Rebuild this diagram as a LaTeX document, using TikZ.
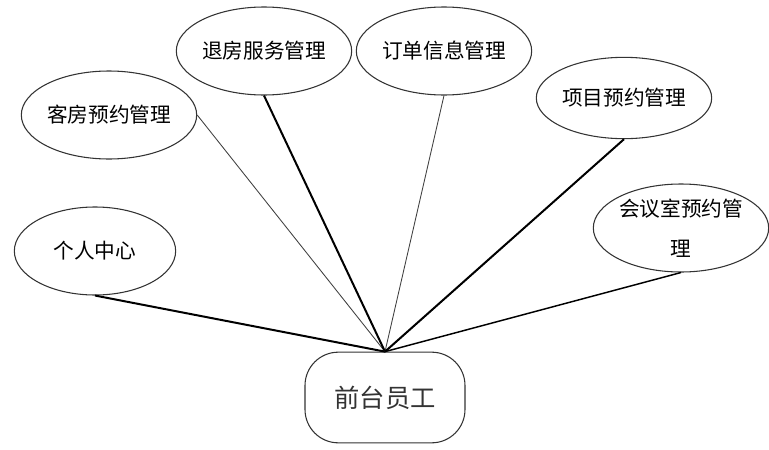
\documentclass[tikz,border=0pt]{standalone}
\usepackage{fontspec}
\newfontfamily\cjk{Noto Sans CJK SC}
\usetikzlibrary{shapes.geometric}
\tikzset{
    usecase/.style={ellipse,draw=black!80,line width=0.8pt,minimum width=121pt,minimum height=66pt,inner sep=0pt,align=center,font=\cjk\fontsize{15.5}{30}\selectfont},
    actor/.style={draw=black!80,line width=0.8pt,rounded corners=25pt,minimum width=120pt,minimum height=68pt,text=black!80,font=\cjk\fontsize{19}{22}\selectfont},
    thinlink/.style={line width=0.65pt,draw=black!75},
    midlink/.style={line width=1.1pt,draw=black},
    thicklink/.style={line width=1.5pt,draw=black}
}
\begin{document}
\begin{tikzpicture}[x=0.75pt,y=-0.75pt]
  \useasboundingbox (0,0) rectangle (769,450);
  \node[actor] (staff) at (385,397.5) {前台员工};
  \node[usecase] (ren) at (95,251) {个人中心};
  \node[usecase] (kefang) at (109,115) {客房预约管理};
  \node[usecase] (tuifang) at (264,51) {退房服务管理};
  \node[usecase] (dingdan) at (444,51) {订单信息管理};
  \node[usecase,minimum height=61pt] (xiangmu) at (624,98) {项目预约管理};
  \node[usecase] (huiyi) at (681,228) {会议室预约管\\理};
  \draw[thicklink] (ren.south) -- (staff.north);
  \draw[thinlink] (kefang.east) -- (staff.north);
  \draw[thicklink] (tuifang.south) -- (staff.north);
  \draw[thinlink] (dingdan.south) -- (staff.north);
  \draw[thicklink] (xiangmu.south) -- (staff.north);
  \draw[midlink] (huiyi.south) -- (staff.north);
\end{tikzpicture}
\end{document}
